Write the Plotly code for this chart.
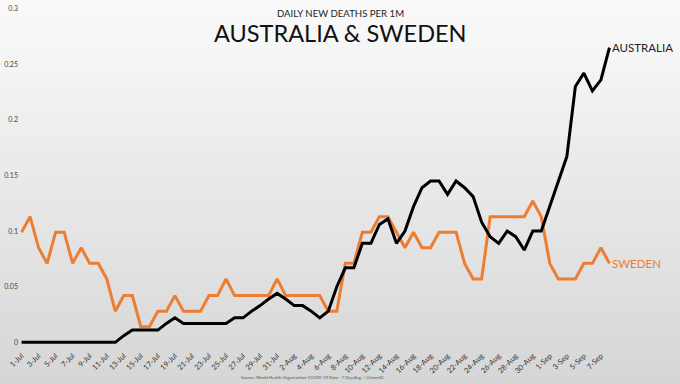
import plotly.graph_objects as go

# ---- data ----
dates = [
    "1-Jul", "2-Jul", "3-Jul", "4-Jul", "5-Jul", "6-Jul", "7-Jul", "8-Jul", "9-Jul", "10-Jul",
    "11-Jul", "12-Jul", "13-Jul", "14-Jul", "15-Jul", "16-Jul", "17-Jul", "18-Jul", "19-Jul", "20-Jul",
    "21-Jul", "22-Jul", "23-Jul", "24-Jul", "25-Jul", "26-Jul", "27-Jul", "28-Jul", "29-Jul", "30-Jul",
    "31-Jul", "1-Aug", "2-Aug", "3-Aug", "4-Aug", "5-Aug", "6-Aug", "7-Aug", "8-Aug", "9-Aug",
    "10-Aug", "11-Aug", "12-Aug", "13-Aug", "14-Aug", "15-Aug", "16-Aug", "17-Aug", "18-Aug", "19-Aug",
    "20-Aug", "21-Aug", "22-Aug", "23-Aug", "24-Aug", "25-Aug", "26-Aug", "27-Aug", "28-Aug", "29-Aug",
    "30-Aug", "31-Aug", "1-Sep", "2-Sep", "3-Sep", "4-Sep", "5-Sep", "6-Sep", "7-Sep", "8-Sep",
]

australia = [
    0, 0, 0, 0, 0, 0, 0, 0, 0, 0,
    0, 0, 0.006, 0.011, 0.011, 0.011, 0.011, 0.017, 0.022, 0.017,
    0.017, 0.017, 0.017, 0.017, 0.017, 0.022, 0.022, 0.028, 0.033, 0.039,
    0.044, 0.039, 0.033, 0.033, 0.028, 0.022, 0.028, 0.050, 0.067, 0.067,
    0.089, 0.089, 0.106, 0.111, 0.089, 0.100, 0.122, 0.139, 0.145, 0.145,
    0.133, 0.145, 0.139, 0.131, 0.108, 0.095, 0.089, 0.100, 0.095, 0.083,
    0.100, 0.100, 0.122, 0.145, 0.167, 0.230, 0.242, 0.226, 0.236, 0.265,
]

sweden = [
    0.099, 0.113, 0.085, 0.071, 0.099, 0.099, 0.071, 0.085, 0.071, 0.071,
    0.057, 0.028, 0.042, 0.042, 0.014, 0.014, 0.028, 0.028, 0.042, 0.028,
    0.028, 0.028, 0.042, 0.042, 0.057, 0.042, 0.042, 0.042, 0.042, 0.042,
    0.057, 0.042, 0.042, 0.042, 0.042, 0.042, 0.028, 0.028, 0.071, 0.071,
    0.099, 0.099, 0.113, 0.113, 0.099, 0.085, 0.099, 0.085, 0.085, 0.099,
    0.099, 0.099, 0.071, 0.057, 0.057, 0.113, 0.113, 0.113, 0.113, 0.113,
    0.127, 0.113, 0.071, 0.057, 0.057, 0.057, 0.071, 0.071, 0.085, 0.071,
]

tick_labels = dates[::2]
y_ticks = [0, 0.05, 0.1, 0.15, 0.2, 0.25, 0.3]
y_tick_text = ["0", "0.05", "0.1", "0.15", "0.2", "0.25", "0.3"]

FONT = "Lato"
W, H = 680, 384
L, R, T, B = 19, 68, 2, 35

fig = go.Figure()
fig.add_trace(go.Scatter(x=dates, y=sweden, mode="lines", name="SWEDEN",
                         line=dict(color="#ED7D31", width=3), hoverinfo="skip"))
fig.add_trace(go.Scatter(x=dates, y=australia, mode="lines", name="AUSTRALIA",
                         line=dict(color="#000000", width=3), hoverinfo="skip"))

# background gradient (paper coordinates)
ph = H - T - B
def py(pix):
    return (H - B - pix) / ph

def px(pix):
    return (pix - L) / (W - L - R)

shapes = []
n = 48
for i in range(n):
    p0 = i * H / n
    p1 = (i + 1) * H / n + 0.6
    frac = (i + 0.5) / n
    c = int(round(250 - 36 * frac))
    shapes.append(dict(type="rect", xref="paper", yref="paper",
                       x0=-0.1, x1=1.2, y0=py(p1), y1=py(p0),
                       fillcolor=f"rgb({c},{c},{c})", line=dict(width=0), layer="below"))

annotations = [
    dict(text="DAILY NEW DEATHS PER 1M", xref="paper", yref="paper", x=px(340), y=py(13),
         showarrow=False, xanchor="center", yanchor="middle",
         font=dict(family=FONT, size=9.6, color="#222222")),
    dict(text="AUSTRALIA &amp; SWEDEN", xref="paper", yref="paper", x=px(340), y=py(33),
         showarrow=False, xanchor="center", yanchor="middle",
         font=dict(family=FONT, size=23.5, color="#111111")),
    dict(text="AUSTRALIA", x=dates[-1], y=australia[-1], xref="x", yref="y",
         showarrow=False, xanchor="left", yanchor="middle", xshift=1,
         font=dict(family=FONT, size=11.5, color="#222222")),
    dict(text="SWEDEN", x=dates[-1], y=sweden[-1], xref="x", yref="y",
         showarrow=False, xanchor="left", yanchor="middle", xshift=1,
         font=dict(family=FONT, size=11.5, color="#ED7D31")),
    dict(text="Source: World Health Organization COVID-19 Data - 7 Day Avg. / @IanmSC",
         xref="paper", yref="paper", x=px(312), y=py(377),
         showarrow=False, xanchor="center", yanchor="middle",
         font=dict(family=FONT, size=4.3, color="#555555")),
]

fig.update_layout(
    template="none",
    width=W, height=H, autosize=False,
    margin=dict(l=L, r=R, t=T, b=B, pad=0),
    paper_bgcolor="#e6e6e6", plot_bgcolor="rgba(0,0,0,0)",
    showlegend=False,
    shapes=shapes, annotations=annotations,
    font=dict(family=FONT, color="#404040"),
    xaxis=dict(type="category", range=[-0.3, 69.3], showgrid=False, zeroline=False,
               showline=False, ticks="", tickmode="array", tickvals=tick_labels,
               ticktext=tick_labels, tickangle=-45, automargin=False,
               tickfont=dict(family=FONT, size=7.5, color="#333333")),
    yaxis=dict(range=[-0.006, 0.306], showgrid=False, zeroline=False, showline=False,
               ticks="", tickmode="array", tickvals=y_ticks, ticktext=y_tick_text,
               automargin=False,
               tickfont=dict(family=FONT, size=7, color="#444444")),
)

fig.write_html("out.html", config={"displayModeBar": False},
               post_script="document.body.style.margin='0px';")
